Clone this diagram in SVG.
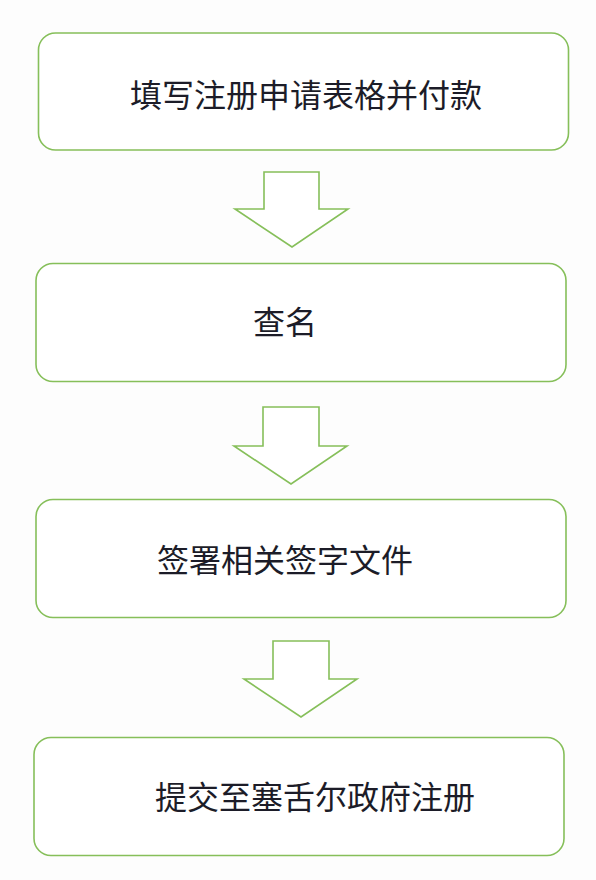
<svg xmlns="http://www.w3.org/2000/svg" width="596" height="880" viewBox="0 0 596 880">
<style>
.box{fill:#ffffff;stroke:#86bf5a;stroke-width:1.6}
.arrow{fill:#ffffff;stroke:#86bf5a;stroke-width:1.6;stroke-linejoin:miter}
.label{font-family:"Noto Sans CJK SC","Noto Sans",sans-serif;font-size:32px;fill:#1c1c28}
</style>
<rect x="0" y="0" width="596" height="880" fill="#fdfdfd"/>
<g id="connectors">
<polygon class="arrow" points="264,172 319,172 319,209 348,209 292,247 235,209 264,209"/>
<polygon class="arrow" points="263,407 319,407 319,446 347,446 291,484 234,446 263,446"/>
<polygon class="arrow" points="273,641 329,641 329,679 357,679 301,717 244,679 273,679"/>
</g>
<g id="node1">
<rect class="box" x="38.5" y="33" width="530" height="117" rx="17"/>
<text class="label" x="130" y="107">填写注册申请表格并付款</text>
</g>
<g id="node2">
<rect class="box" x="36" y="263.5" width="530" height="118" rx="17"/>
<text class="label" x="253" y="334">查名</text>
</g>
<g id="node3">
<rect class="box" x="36" y="499.5" width="530" height="118" rx="17"/>
<text class="label" x="157" y="572">签署相关签字文件</text>
</g>
<g id="node4">
<rect class="box" x="34" y="737.5" width="530" height="118" rx="17"/>
<text class="label" x="155" y="809">提交至塞舌尔政府注册</text>
</g>
</svg>
